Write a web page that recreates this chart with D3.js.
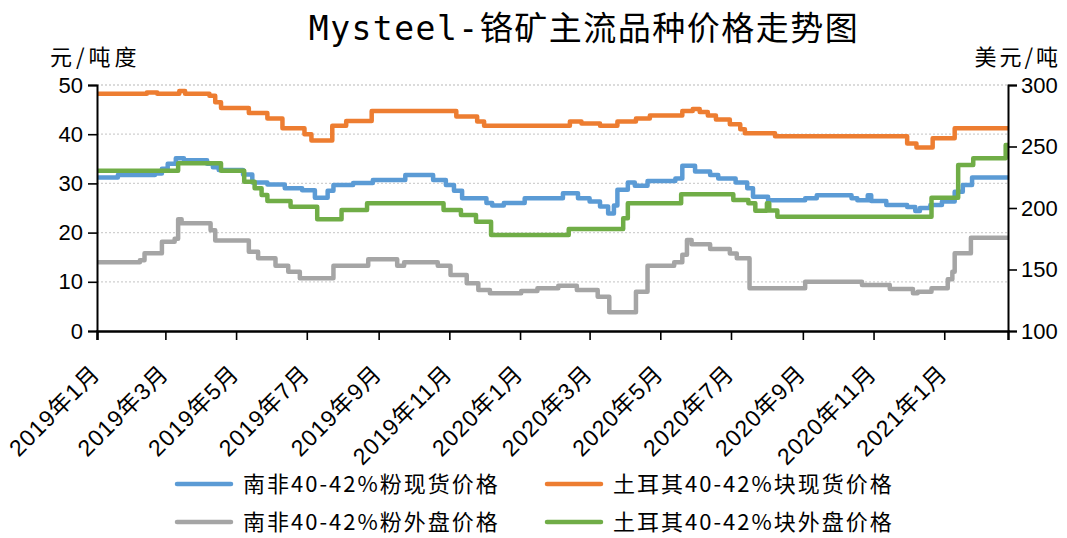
<!DOCTYPE html>
<html>
<head>
<meta charset="utf-8">
<script src="https://cdn.jsdelivr.net/npm/d3@7/dist/d3.min.js"></script>
<style>
  body { margin: 0; background: #fff; }
  svg { display: block; }
</style>
</head>
<body>
<div id="chart"></div>
<script>
// 南非40-42%粉现货价格 (元/吨度, left axis)
var saFinesSpot = [
  ["2019-01-01", 31.2], ["2019-01-19", 31.7], ["2019-02-20", 32.0], ["2019-02-26", 33.0],
  ["2019-03-03", 34.0], ["2019-03-10", 35.1], ["2019-03-17", 34.7], ["2019-04-06", 34.0],
  ["2019-04-11", 33.3], ["2019-04-16", 32.7], ["2019-05-07", 31.8], ["2019-05-15", 30.2],
  ["2019-05-28", 29.8], ["2019-06-12", 29.0], ["2019-06-27", 28.6], ["2019-07-08", 27.1],
  ["2019-07-19", 28.5], ["2019-07-24", 29.7], ["2019-08-10", 30.1], ["2019-08-27", 30.7],
  ["2019-09-24", 31.7], ["2019-10-18", 30.7], ["2019-10-29", 29.7], ["2019-11-05", 28.5],
  ["2019-11-12", 27.0], ["2019-12-03", 26.0], ["2019-12-08", 25.5], ["2019-12-18", 26.0],
  ["2020-01-05", 27.0], ["2020-02-07", 28.0], ["2020-02-20", 27.0], ["2020-03-01", 26.3],
  ["2020-03-10", 25.3], ["2020-03-17", 23.9], ["2020-03-22", 25.5], ["2020-03-25", 28.7],
  ["2020-04-03", 30.2], ["2020-04-09", 29.5], ["2020-04-20", 30.5], ["2020-05-14", 31.0],
  ["2020-05-20", 33.6], ["2020-05-31", 32.4], ["2020-06-13", 31.7], ["2020-06-20", 31.0],
  ["2020-07-05", 30.2], ["2020-07-15", 29.0], ["2020-07-20", 27.3], ["2020-08-02", 26.6],
  ["2020-09-03", 27.0], ["2020-09-13", 27.6], ["2020-10-13", 27.0], ["2020-10-18", 26.6],
  ["2020-10-27", 27.6], ["2020-10-30", 26.4], ["2020-11-12", 25.6], ["2020-11-30", 25.2],
  ["2020-12-07", 24.4], ["2020-12-11", 25.0], ["2020-12-20", 25.6], ["2020-12-30", 26.3],
  ["2021-01-10", 28.3], ["2021-01-17", 29.7], ["2021-01-25", 31.2], ["2021-02-25", 31.2]
];

// 土耳其40-42%块现货价格 (元/吨度, left axis)
var trLumpSpot = [
  ["2019-01-01", 48.2], ["2019-02-13", 48.5], ["2019-02-22", 48.2], ["2019-03-13", 48.8],
  ["2019-03-18", 48.2], ["2019-04-08", 47.8], ["2019-04-13", 46.5], ["2019-04-18", 45.3],
  ["2019-05-12", 44.3], ["2019-05-28", 43.2], ["2019-06-10", 41.2], ["2019-06-29", 40.0],
  ["2019-07-05", 38.7], ["2019-07-23", 41.7], ["2019-08-04", 42.7], ["2019-08-26", 44.7],
  ["2019-11-07", 43.6], ["2019-11-25", 42.6], ["2019-12-01", 41.7], ["2020-02-13", 42.6],
  ["2020-02-23", 42.2], ["2020-03-10", 41.7], ["2020-03-25", 42.6], ["2020-04-10", 43.2],
  ["2020-04-22", 43.8], ["2020-05-20", 44.7], ["2020-05-29", 45.1], ["2020-06-04", 44.5],
  ["2020-06-11", 43.8], ["2020-06-18", 43.0], ["2020-06-30", 42.0], ["2020-07-09", 41.0],
  ["2020-07-13", 40.2], ["2020-08-08", 39.6], ["2020-11-30", 38.1], ["2020-12-08", 37.3],
  ["2020-12-22", 39.2], ["2021-01-10", 41.2], ["2021-02-25", 41.2]
];

// 南非40-42%粉外盘价格 (美元/吨, right axis)
var saFinesOffer = [
  ["2019-01-01", 155.8], ["2019-02-07", 157.5], ["2019-02-11", 163.2], ["2019-02-26", 172.6],
  ["2019-03-09", 175.0], ["2019-03-12", 190.8], ["2019-03-15", 187.6], ["2019-04-09", 182.0],
  ["2019-04-13", 173.6], ["2019-05-12", 164.5], ["2019-05-20", 159.1], ["2019-06-04", 153.1],
  ["2019-06-15", 148.2], ["2019-06-25", 142.8], ["2019-07-24", 153.1], ["2019-08-23", 158.3],
  ["2019-09-17", 153.1], ["2019-09-23", 155.8], ["2019-10-22", 153.1], ["2019-11-02", 145.5],
  ["2019-11-16", 138.8], ["2019-11-26", 133.3], ["2019-12-06", 130.6], ["2020-01-02", 132.5],
  ["2020-01-16", 134.7], ["2020-02-03", 136.8], ["2020-02-19", 133.3], ["2020-03-08", 127.9],
  ["2020-03-18", 115.2], ["2020-04-10", 132.0], ["2020-04-20", 153.1], ["2020-05-13", 155.8],
  ["2020-05-20", 162.0], ["2020-05-24", 174.0], ["2020-05-28", 170.5], ["2020-06-13", 166.7],
  ["2020-06-30", 163.0], ["2020-07-06", 159.1], ["2020-07-17", 134.7], ["2020-09-03", 140.1],
  ["2020-10-22", 137.4], ["2020-11-15", 134.1], ["2020-12-05", 130.6], ["2020-12-09", 132.0],
  ["2020-12-21", 134.7], ["2021-01-04", 142.0], ["2021-01-08", 148.2], ["2021-01-10", 163.2],
  ["2021-01-24", 175.9], ["2021-02-25", 175.9]
];

// 土耳其40-42%块外盘价格 (美元/吨, right axis)
var trLumpOffer = [
  ["2019-01-01", 230.3], ["2019-03-12", 236.4], ["2019-04-18", 230.3], ["2019-05-08", 221.4],
  ["2019-05-17", 216.0], ["2019-05-23", 210.6], ["2019-05-28", 205.7], ["2019-06-17", 201.0],
  ["2019-07-10", 190.8], ["2019-07-31", 198.4], ["2019-08-22", 203.8], ["2019-10-27", 198.4],
  ["2019-11-11", 194.3], ["2019-11-24", 188.9], ["2019-12-07", 178.0], ["2020-02-12", 182.9],
  ["2020-03-30", 191.6], ["2020-04-03", 203.8], ["2020-05-19", 211.1], ["2020-07-03", 206.5],
  ["2020-07-16", 203.8], ["2020-07-22", 197.8], ["2020-08-01", 203.8], ["2020-08-03", 198.0],
  ["2020-08-10", 192.9], ["2020-12-21", 208.4], ["2021-01-13", 235.0], ["2021-01-26", 240.4],
  ["2021-02-23", 251.2], ["2021-02-25", 251.2]
];

var seriesNames = ["南非40-42%粉现货价格", "土耳其40-42%块现货价格", "南非40-42%粉外盘价格", "土耳其40-42%块外盘价格"];
var leftTicks = [0, 10, 20, 30, 40, 50];
var rightTicks = [100, 150, 200, 250, 300];
var xTickDates = ["2019-01-01", "2019-03-01", "2019-05-01", "2019-07-01", "2019-09-01", "2019-11-01",
  "2020-01-01", "2020-03-01", "2020-05-01", "2020-07-01", "2020-09-01", "2020-11-01", "2021-01-01"];

var width = 1067, height = 538;
var margin = {top: 85, right: 59, bottom: 207, left: 97};
var parse = d3.timeParse("%Y-%m-%d");
var fmt = d3.timeFormat("%Y年%-m月");
var numFont = "'Liberation Sans', Arial, 'Noto Sans CJK SC', sans-serif";
var cjkFont = "'Noto Sans CJK SC', 'Liberation Sans', sans-serif";

var svg = d3.select("#chart").append("svg")
  .attr("width", width)
  .attr("height", height);

var x = d3.scaleTime()
  .domain([parse("2019-01-01"), parse("2021-02-25")])
  .range([margin.left, width - margin.right]);
var yL = d3.scaleLinear().domain([0, 50]).range([height - margin.bottom, margin.top]);
var yR = d3.scaleLinear().domain([100, 300]).range([height - margin.bottom, margin.top]);

// gridlines (dotted)
svg.append("g")
  .selectAll("line")
  .data(leftTicks.slice(1))
  .enter().append("line")
    .attr("x1", margin.left).attr("x2", width - margin.right)
    .attr("y1", function(d) { return yL(d); })
    .attr("y2", function(d) { return yL(d); })
    .attr("stroke", "#d0d0d0")
    .attr("stroke-width", 1.3)
    .attr("stroke-dasharray", "2,2");

// lines
var series = [
  {data: saFinesSpot, y: yL, color: "#5b9bd5"},
  {data: trLumpSpot, y: yL, color: "#ed7d31"},
  {data: saFinesOffer, y: yR, color: "#a5a5a5"},
  {data: trLumpOffer, y: yR, color: "#70ad47"}
];

series.forEach(function(s) {
  var line = d3.line()
    .curve(d3.curveStepAfter)
    .x(function(d) { return x(parse(d[0])); })
    .y(function(d) { return s.y(d[1]); });
  svg.append("path")
    .datum(s.data)
    .attr("fill", "none")
    .attr("stroke", s.color)
    .attr("stroke-width", 4.5)
    .attr("stroke-linejoin", "round")
    .attr("d", line);
});

// left axis
var leftAxis = svg.append("g")
  .attr("transform", "translate(" + margin.left + ",0)")
  .call(d3.axisLeft(yL).tickValues(leftTicks).tickSize(9).tickPadding(5));
leftAxis.select(".domain").attr("stroke-width", 2);
leftAxis.selectAll(".tick line").attr("stroke-width", 1.6);
leftAxis.selectAll("text").style("font-family", numFont).style("font-size", "22px").attr("fill", "#000");

// right axis
var rightAxis = svg.append("g")
  .attr("transform", "translate(" + (width - margin.right) + ",0)")
  .call(d3.axisRight(yR).tickValues(rightTicks).tickSize(9).tickPadding(4));
rightAxis.select(".domain").attr("stroke-width", 2);
rightAxis.selectAll(".tick line").attr("stroke-width", 1.6);
rightAxis.selectAll("text").style("font-family", numFont).style("font-size", "22px").attr("fill", "#000");

// bottom axis
var bottomAxis = svg.append("g")
  .attr("transform", "translate(0," + (height - margin.bottom) + ")")
  .call(d3.axisBottom(x).tickValues(xTickDates.map(parse)).tickSize(9).tickFormat(fmt));
bottomAxis.select(".domain").attr("stroke-width", 2.5);
bottomAxis.selectAll(".tick line").attr("stroke-width", 1.6);
bottomAxis.selectAll("text")
  .style("font-family", numFont)
  .style("font-size", "23px")
  .style("letter-spacing", "1px")
  .attr("fill", "#000")
  .attr("text-anchor", "end")
  .attr("dy", null)
  .attr("y", 0)
  .attr("transform", "translate(4,44) rotate(-45)");

// title
svg.append("text")
  .attr("x", 584).attr("y", 40)
  .attr("text-anchor", "middle")
  .style("font-family", "'DejaVu Sans Mono', 'Noto Sans CJK SC', monospace")
  .style("font-size", "33px")
  .style("letter-spacing", "1.5px")
  .text("Mysteel-铬矿主流品种价格走势图");

// axis units
svg.append("text")
  .attr("x", 50).attr("y", 65)
  .style("font-family", cjkFont).style("font-size", "22px")
  .style("letter-spacing", "4px")
  .text("元/吨度");
svg.append("text")
  .attr("x", 1061).attr("y", 65)
  .attr("text-anchor", "end")
  .style("font-family", cjkFont).style("font-size", "22px")
  .style("letter-spacing", "3px")
  .text("美元/吨");

// legend
var legendPos = [[175, 484], [545, 484], [175, 522], [545, 522]];
var legendColors = ["#5b9bd5", "#ed7d31", "#a5a5a5", "#70ad47"];
var legend = svg.append("g")
  .selectAll("g")
  .data(seriesNames)
  .enter().append("g")
    .attr("transform", function(d, i) { return "translate(" + legendPos[i][0] + "," + legendPos[i][1] + ")"; });
legend.append("line")
  .attr("x1", 2).attr("x2", 56)
  .attr("stroke", function(d, i) { return legendColors[i]; })
  .attr("stroke-width", 4.5)
  .attr("stroke-linecap", "round");
legend.append("text")
  .attr("x", 68).attr("y", 8)
  .style("font-family", cjkFont).style("font-size", "22px")
  .style("letter-spacing", "2px")
  .text(function(d) { return d; });
</script>
</body>
</html>
